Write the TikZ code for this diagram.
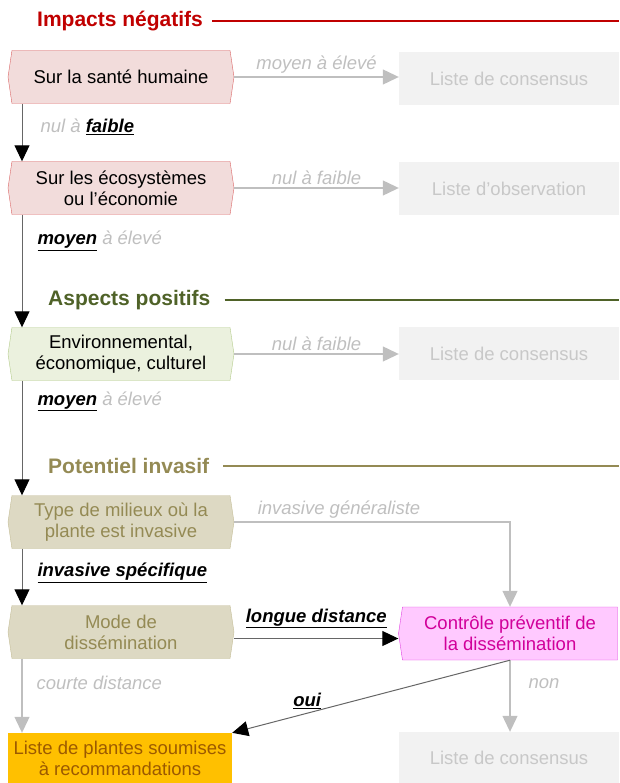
\documentclass[tikz,border=0pt]{standalone}
\usepackage{fontspec}
\setmainfont{Liberation Sans}
\usepackage{xcolor}
\usepackage{tikz}
\usetikzlibrary{arrows.meta,calc,shapes.symbols}

\definecolor{negred}{HTML}{C00000}
\definecolor{negfill}{HTML}{F2DCDB}
\definecolor{negline}{HTML}{DA6464}
\definecolor{posgreen}{HTML}{4F6228}
\definecolor{posfill}{HTML}{EBF1DE}
\definecolor{posline}{HTML}{B3CB8A}
\definecolor{invkhaki}{HTML}{948A54}
\definecolor{invfill}{HTML}{DDD9C3}
\definecolor{invline}{HTML}{C4BD97}
\definecolor{offgray}{HTML}{BFBFBF}
\definecolor{listfill}{HTML}{F2F2F2}
\definecolor{listtext}{HTML}{C8C8C8}
\definecolor{ctrlfill}{HTML}{FFC9FF}
\definecolor{ctrlline}{HTML}{E040E0}
\definecolor{ctrltext}{HTML}{D1009A}
\definecolor{recfill}{HTML}{FFC000}
\definecolor{rectext}{HTML}{9C5A00}

\newcommand{\choix}[1]{\textcolor{black}{\underline{\textbf{#1}}}}

\begin{document}
\begin{tikzpicture}[x=1pt,y=-1pt,font=\fontsize{18.5}{21}\selectfont,
    >={Triangle[length=16pt,width=15pt]},
    crit/.style={signal,signal to=west and east,signal pointer angle=163,
      minimum width=226pt,minimum height=53pt,inner sep=1pt,align=center},
    liste/.style={fill=listfill,text=listtext,minimum width=220pt,
      minimum height=53pt,inner sep=1pt,align=center},
    titre/.style={anchor=west,inner sep=0pt,font=\fontsize{21}{24}\selectfont\bfseries},
    off/.style={->,draw=offgray,line width=1.2pt},
    on/.style={-{Triangle[length=16pt,width=15pt,color=black]},draw=black!60,line width=1pt},
    lbl/.style={font=\fontsize{18.5}{21}\selectfont\itshape,text=offgray,inner sep=1pt}]
  \useasboundingbox (0,0) rectangle (619,783);
  \coordinate (bord) at (619,0);
  \coordinate (axe) at (22,0);

  % impacts negatifs
  \node[titre,text=negred] (tneg) at (37,21) {Impacts négatifs};
  \draw[negred,line width=2pt] ($(tneg.east)+(9,0)$) -- (tneg.east -| bord);
  \node[crit,fill=negfill,draw=negline] (sante) at (121,77) {Sur la santé humaine};
  \node[crit,fill=negfill,draw=negline] (eco) at (121,188) {Sur les écosystèmes\\ou l’économie};
  \node[liste] (cons1) at (509,78.5) {Liste de consensus};
  \node[liste] (obs) at (509,188.5) {Liste d’observation};

  % aspects positifs
  \node[titre,text=posgreen] (tpos) at (48,300) {Aspects positifs};
  \draw[posgreen,line width=2pt] ($(tpos.east)+(14,0)$) -- (tpos.east -| bord);
  \node[crit,fill=posfill,draw=posline] (envi) at (121,354) {Environnemental,\\économique, culturel};
  \node[liste] (cons2) at (509,353.5) {Liste de consensus};

  % potentiel invasif
  \node[titre,text=invkhaki] (tinv) at (48,466) {Potentiel invasif};
  \draw[invkhaki,line width=2pt] ($(tinv.east)+(14,0)$) -- (tinv.east -| bord);
  \node[crit,fill=invfill,draw=invline,text=invkhaki] (milieu) at (121,522) {Type de milieux où la\\plante est invasive};
  \node[crit,fill=invfill,draw=invline,text=invkhaki] (mode) at (121,632) {Mode de\\dissémination};
  \node[signal,signal to=west,signal pointer angle=163,fill=ctrlfill,draw=ctrlline,
    text=ctrltext,minimum width=219pt,minimum height=53pt,inner sep=1pt,align=center]
    (ctrl) at (510,633.5) {Contrôle préventif de\\la dissémination};
  \node[liste,minimum height=51pt] (cons3) at (509,757.5) {Liste de consensus};
  \node[fill=recfill,text=rectext,minimum width=224pt,minimum height=50pt,
    inner sep=1pt,align=center] (reco) at (120,758) {Liste de plantes soumises\\à recommandations};

  % fleches
  \draw[off] (sante.east) -- (sante.east -| cons1.west) node[lbl,midway,above=2pt] {moyen à élevé};
  \draw[on] (sante.south -| axe) -- (eco.north -| axe)
    node[lbl,pos=.4,anchor=west,xshift=17pt] {nul à \choix{faible}};
  \draw[off] (eco.east) -- (eco.east -| obs.west) node[lbl,midway,above=2pt] {nul à faible};
  \draw[on] (eco.south -| axe) -- (envi.north -| axe)
    node[lbl,pos=.23,anchor=west,xshift=14pt] {\choix{moyen} à élevé};
  \draw[off] (envi.east) -- (envi.east -| cons2.west) node[lbl,midway,above=2pt] {nul à faible};
  \draw[on] (envi.south -| axe) -- (milieu.north -| axe)
    node[lbl,pos=.18,anchor=west,xshift=14pt] {\choix{moyen} à élevé};
  \draw[off] (milieu.east) -| (ctrl.north)
    node[lbl,pos=.19,above=2pt] {invasive généraliste};
  \draw[on] (milieu.south -| axe) -- (mode.north -| axe)
    node[lbl,pos=.43,anchor=west,xshift=14pt] {\choix{invasive spécifique}};
  \draw[on] ([yshift=-6.5pt]mode.east) -- ([yshift=-6.5pt]mode.east -| ctrl.west)
    node[lbl,midway,above=9pt] {\choix{longue distance}};
  \draw[off] (mode.south -| axe) -- (reco.north -| axe)
    node[lbl,pos=.32,anchor=west,xshift=13pt] {courte distance};
  \draw[off] (ctrl.south) -- (ctrl.south |- cons3.north)
    node[lbl,pos=.32,anchor=west,xshift=17pt] {non};
  \draw[on] (ctrl.south) -- (reco.north east)
    node[lbl,pos=.73,above=3pt] {\choix{oui}};
\end{tikzpicture}
\end{document}
